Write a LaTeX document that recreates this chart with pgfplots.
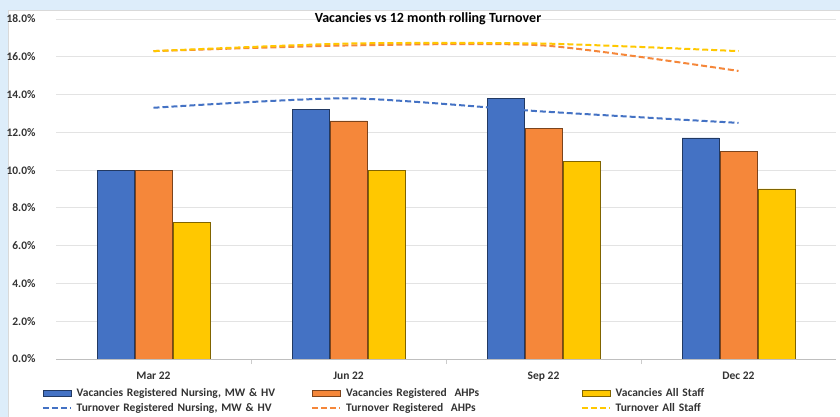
\documentclass[border=0pt]{standalone}
\usepackage{fontspec}
\setmainfont{Carlito}
\usepackage{pgfplots}
\pgfplotsset{compat=1.18}

\definecolor{bgblue}{HTML}{DDEDFA}
\definecolor{cblue}{HTML}{4472C4}
\definecolor{corange}{HTML}{F5873A}
\definecolor{cyellow}{HTML}{FFC800}
\definecolor{ctext}{HTML}{333333}
\definecolor{cgrid}{HTML}{E3E3E3}

\pgfplotstableread{
x nurse ahp all
0 10.0 10.0 7.25
1 13.2 12.6 10.0
2 13.8 12.2 10.45
3 11.7 11.0 9.0
}\vacancies

\pgfplotstableread{
x nurse ahp all
0 13.3 16.3 16.3
1 13.8 16.6 16.7
2 13.1 16.6 16.7
3 12.5 15.25 16.3
}\turnover

\begin{document}
\begin{tikzpicture}[x=1pt,y=1pt]
\fill[bgblue] (0,0) rectangle (840,417);
\fill[white] (8,0) rectangle (840,407);
\draw[black!15] (8,0) -- (8,407) -- (840,407);
\begin{axis}[
  at={(56pt,58pt)}, anchor=south west,
  scale only axis, width=780pt, height=340pt,
  font=\fontsize{11.5}{13}\selectfont\bfseries\color{ctext},
  /pgf/number format/assume math mode=true,
  ybar=1pt, bar width=37pt,
  xmin=-0.5, xmax=3.5, ymin=0, ymax=18,
  xtick={0,1,2,3},
  xticklabels={Mar 22, Jun 22, Sep 22, Dec 22},
  major x tick style={draw=none},
  minor xtick={0.5,1.5,2.5},
  minor x tick style={black!20},
  xtick align=outside,
  minor tick length=5pt,
  xticklabel style={yshift=-5pt},
  ytick={0,2,...,18},
  yticklabel={\pgfmathprintnumber[fixed,fixed zerofill,precision=1]{\tick}\%},
  yticklabel style={xshift=-17pt},
  major y tick style={draw=none},
  ymajorgrids, grid style={cgrid, line width=0.8pt},
  axis x line*=bottom, axis y line*=left,
  x axis line style={black!25, -},
  y axis line style={draw=none},
  title={Vacancies vs 12 month rolling Turnover},
  title style={at={(rel axis cs:0.5,1)}, anchor=center, yshift=-6pt, xshift=-18pt,
    font=\fontsize{14}{16}\selectfont\bfseries\color{black}},
  legend columns=3,
  legend cell align=left,
  legend style={at={(rel axis cs:0,0)}, anchor=north west, xshift=-14pt, yshift=-28pt,
    draw=none, fill=none, inner sep=0pt, row sep=3.5pt,
    font=\fontsize{11.5}{12.5}\selectfont\bfseries\color{ctext},
    nodes={text width=234pt, align=left, inner sep=1pt}},
  /tikz/every odd column/.append style={column sep=4pt},
  legend image code/.code={\draw[#1] (0pt,-3pt) rectangle (28pt,3pt);},
]
\addplot[fill=cblue, draw=cblue!50!black] table[x=x, y=nurse] {\vacancies};
\addplot[fill=corange, draw=corange!50!black] table[x=x, y=ahp] {\vacancies};
\addplot[fill=cyellow, draw=cyellow!50!black] table[x=x, y=all] {\vacancies};
\addplot[sharp plot, smooth, tension=0.4, cblue, line width=2pt, dash pattern=on 6pt off 3pt,
  legend image code/.code={\draw[cblue, line width=1.5pt, dash pattern=on 6pt off 3pt] (0pt,0pt) -- (28pt,0pt);}]
  table[x=x, y=nurse] {\turnover};
\addplot[sharp plot, smooth, tension=0.4, corange, line width=2pt, dash pattern=on 6pt off 3pt,
  legend image code/.code={\draw[corange, line width=1.5pt, dash pattern=on 6pt off 3pt] (0pt,0pt) -- (28pt,0pt);}]
  table[x=x, y=ahp] {\turnover};
\addplot[sharp plot, smooth, tension=0.4, cyellow, line width=2pt, dash pattern=on 6pt off 3pt,
  legend image code/.code={\draw[cyellow, line width=1.5pt, dash pattern=on 6pt off 3pt] (0pt,0pt) -- (28pt,0pt);}]
  table[x=x, y=all] {\turnover};
\legend{{Vacancies Registered Nursing, MW \& HV}, {Vacancies Registered\ \ AHPs}, {Vacancies All Staff},
  {Turnover Registered Nursing, MW \& HV}, {Turnover Registered\ \ AHPs}, {Turnover All Staff}}
\end{axis}
\pgfresetboundingbox
\path (0,0) rectangle (840,417);
\end{tikzpicture}
\end{document}
